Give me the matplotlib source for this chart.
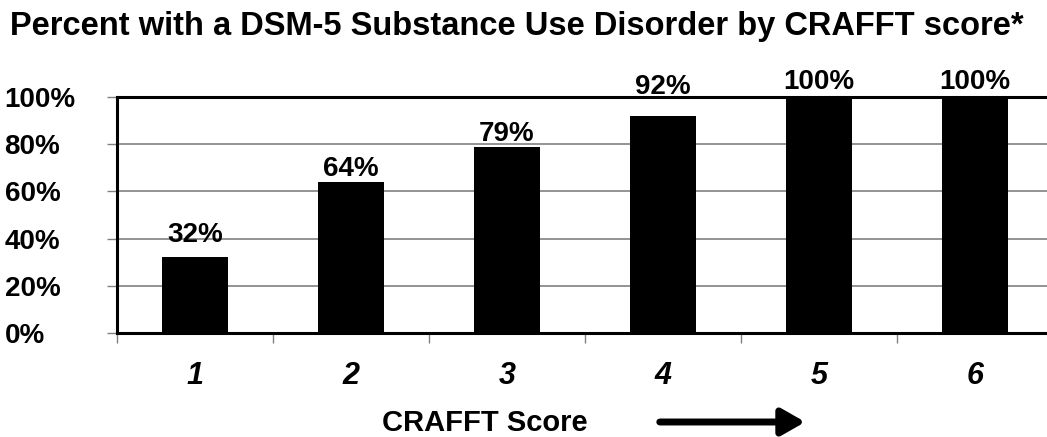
import matplotlib
matplotlib.use("Agg")
import matplotlib.pyplot as plt
import numpy as np

scores = ["1", "2", "3", "4", "5", "6"]
pct = [32, 64, 79, 92, 100, 100]
yticks = [0, 20, 40, 60, 80, 100]
# gap between bar top and its label, in points
label_gap = [11, 4, 4, 16, 6, 6]

plt.rcParams['font.family'] = ['Liberation Sans', 'DejaVu Sans']

fig = plt.figure(figsize=(10.47, 4.37), dpi=100)
ax = fig.add_axes([117 / 1047, 1 - 333 / 437, 936 / 1047, 236 / 437])

x = np.arange(len(scores))
ax.bar(x, pct, width=0.42, color="black", zorder=3)
for xi, v, g in zip(x, pct, label_gap):
    ax.annotate(f"{v}%", (xi, v), xytext=(0, g), textcoords="offset points",
                ha="center", va="baseline", fontsize=20, fontweight="bold",
                annotation_clip=False)

ax.set_xlim(-0.5, len(scores) - 0.5)
ax.set_ylim(0, 100)
ax.set_yticks(yticks)
ax.set_yticklabels([f"{t}%" for t in yticks], fontsize=20, fontweight="bold",
                   ha="left")
ax.tick_params(axis="y", length=7, width=1, color="#808080", pad=74)
ax.yaxis.grid(True, color="#808080", linewidth=1.2, zorder=0)

ax.set_xticks(x)
ax.set_xticklabels(scores, fontsize=22, fontweight="bold", style="italic")
ax.set_xticks(np.arange(-0.5, len(scores), 1.0), minor=True)
ax.tick_params(axis="x", which="major", length=0, pad=20)
ax.tick_params(axis="x", which="minor", length=7, width=1, color="#808080")

for s in ["left", "bottom", "top"]:
    ax.spines[s].set_linewidth(2.2)
ax.spines["right"].set_visible(False)

fig.text(10 / 1047, 1 - 35 / 437,
         "Percent with a DSM-5 Substance Use Disorder by CRAFFT score*",
         ha="left", va="baseline", fontsize=23.5, fontweight="bold")
fig.text(485 / 1047, 1 - 431 / 437, "CRAFFT Score", ha="center", va="baseline",
         fontsize=21, fontweight="bold")
fig.add_artist(matplotlib.patches.FancyArrowPatch(
    (657 / 1047, 1 - 422 / 437), (808 / 1047, 1 - 422 / 437),
    transform=fig.transFigure, arrowstyle="-|>,head_length=14,head_width=8",
    mutation_scale=1, linewidth=5, color="black"))

fig.savefig("out.png", dpi=100)
